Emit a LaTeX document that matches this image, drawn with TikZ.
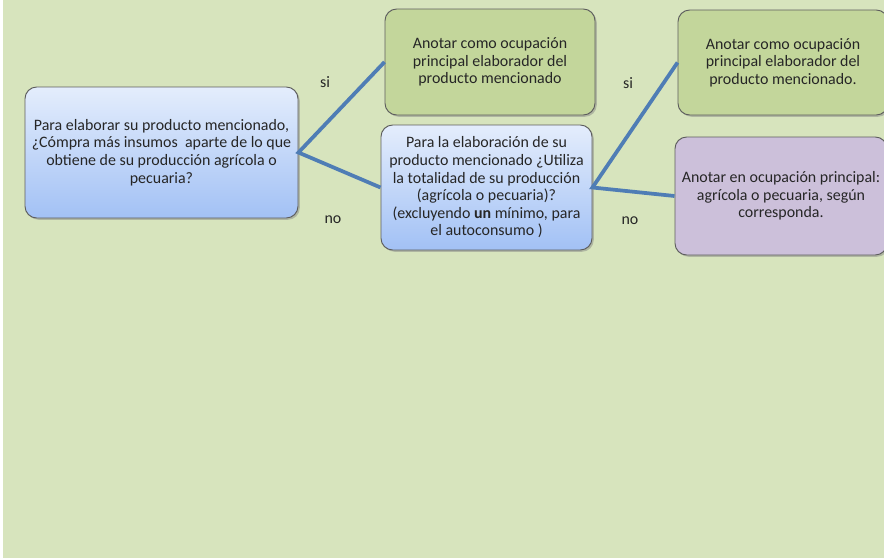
\documentclass[tikz,border=0pt]{standalone}
\usepackage{fontspec}
\setmainfont{Carlito}
\usetikzlibrary{shadows}
\definecolor{fondo}{HTML}{D7E4BD}
\definecolor{verdecaja}{HTML}{C3D69B}
\definecolor{lilacaja}{HTML}{CCC0DA}
\definecolor{azularriba}{HTML}{E4EDFC}
\definecolor{azulabajo}{HTML}{A2C1F5}
\definecolor{enlace}{HTML}{4F7DB5}
\definecolor{borde}{HTML}{5E5E5E}
\begin{document}
\begin{tikzpicture}[x=0.03cm,y=-0.03cm]
    % Style definition for the boxes and links
    \tikzset{caja/.style={rectangle, rounded corners=10pt, draw=borde, line width=0.8pt,
             align=center, text=black!85, font=\fontsize{13.6}{15}\selectfont,
             drop shadow={opacity=0.45, shadow xshift=1.5pt, shadow yshift=-1.5pt}},
             pregunta/.style={caja, top color=azularriba, bottom color=azulabajo},
             verde/.style={caja, fill=verdecaja},
             lila/.style={caja, fill=lilacaja}}
    \tikzstyle{enlace} = [draw=enlace, line width=3.2pt]
    \tikzstyle{rotulo} = [font=\fontsize{13.6}{15}\selectfont, text=black!85]

    % Background
    \useasboundingbox (0,0) rectangle (884,558);
    \fill[fondo] (3,0) rectangle (884,558);

    % Question boxes
    \node (preg1) [pregunta, minimum width=273*0.03cm, minimum height=131*0.03cm] at (161.5,152.5)
        {Para elaborar su producto mencionado,\\ ¿Cómpra más insumos\ \ aparte de lo que\\ obtiene de su producción agrícola o\\ pecuaria?};
    \node (preg2) [pregunta, minimum width=211*0.03cm, minimum height=125*0.03cm] at (486.5,187.5)
        {Para la elaboración de su\\ producto mencionado ¿Utiliza\\ la totalidad de su producción\\ (agrícola o pecuaria)?\\ (excluyendo \textbf{un} mínimo, para\\ el autoconsumo )};

    % Answer boxes
    \node (resp1) [verde, minimum width=210*0.03cm, minimum height=106*0.03cm] at (490,62)
        {Anotar como ocupación\\ principal elaborador del\\ producto mencionado};
    \node (resp2) [verde, minimum width=210*0.03cm, minimum height=105*0.03cm] at (783,62.5)
        {Anotar como ocupación\\ principal elaborador del\\ producto mencionado.};
    \node (resp3) [lila, minimum width=212*0.03cm, minimum height=118*0.03cm] at (781,196)
        {Anotar en ocupación principal:\\ agrícola o pecuaria, según\\ corresponda.};

    % Links
    \draw [enlace] (resp1.west) -- (preg1.east) -- (preg2.west);
    \draw [enlace] (resp2.west) -- (preg2.east) -- (resp3.west);

    % Labels
    \node (si1) [rotulo] at (325,82) {si};
    \node (no1) [rotulo] at (333,220) {no};
    \node (si2) [rotulo] at (628,83) {si};
    \node (no2) [rotulo] at (630,221) {no};
\end{tikzpicture}
\end{document}
